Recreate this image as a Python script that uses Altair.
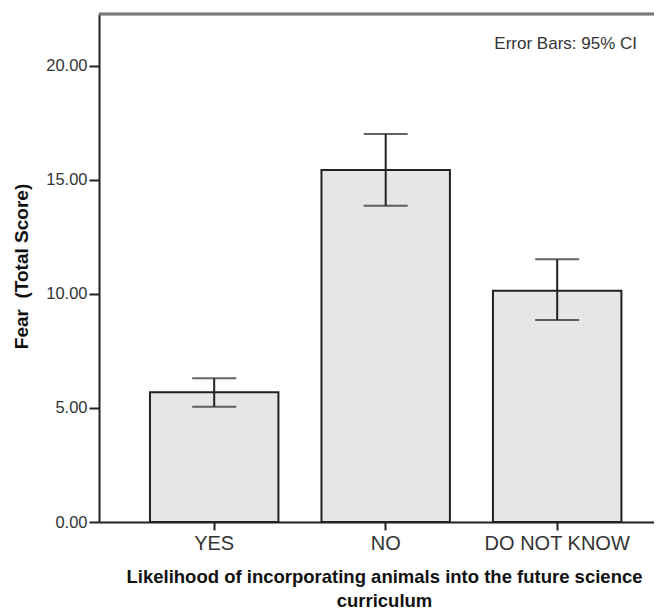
import altair as alt
import pandas as pd

categories = ["YES", "NO", "DO NOT KNOW"]
means = [5.69, 15.44, 10.14]
ci_low = [5.06, 13.87, 8.86]
ci_high = [6.30, 17.02, 11.52]
y_ticks = [0, 5, 10, 15, 20]

df = pd.DataFrame({"cat": categories, "mean": means, "lo": ci_low, "hi": ci_high})

W, H = 555, 508
FONT = "Liberation Sans"

xscale = alt.Scale(domain=categories, paddingInner=0.251, paddingOuter=0.2436, align=0.61)
yscale = alt.Scale(domain=[0, 22.28], nice=False, zero=True)

x_enc = alt.X(
    "cat:N", scale=xscale, sort=categories,
    axis=alt.Axis(
        title=["Likelihood of incorporating animals into the future science", "curriculum"],
        titleFont=FONT, titleFontSize=18.5, titleFontWeight="bold", titleColor="#111",
        titleLineHeight=24, titleX=285, titleY=54, titleBaseline="middle",
        labelFont=FONT, labelFontSize=20, labelColor="#333", labelAngle=0,
        labelPadding=3, tickSize=8, tickWidth=2, tickColor="#222",
        domainColor="#222", domainWidth=2,
    ),
)
y_enc = alt.Y(
    "mean:Q", scale=yscale,
    axis=alt.Axis(
        title="Fear\u00a0 (Total Score)", values=y_ticks, format=".2f",
        titleFont=FONT, titleFontSize=19, titleFontWeight="bold", titleColor="#111",
        titleX=-68, titleY=252,
        labelFont=FONT, labelFontSize=16.5, labelColor="#333",
        labelPadding=2, tickSize=10, tickWidth=2, tickColor="#222",
        domainColor="#222", domainWidth=2, grid=False,
    ),
)

bars = alt.Chart(df).mark_bar(fill="#e6e6e6", stroke="#222", strokeWidth=2).encode(x=x_enc, y=y_enc)

err = alt.Chart(df).mark_rule(color="#222", strokeWidth=2).encode(
    x=alt.X("cat:N", scale=xscale, sort=categories),
    y=alt.Y("lo:Q", scale=yscale),
    y2="hi:Q",
)
cap_lo = alt.Chart(df).mark_tick(color="#222", thickness=2, size=44, orient="horizontal").encode(
    x=alt.X("cat:N", scale=xscale, sort=categories),
    y=alt.Y("lo:Q", scale=yscale),
)
cap_hi = alt.Chart(df).mark_tick(color="#222", thickness=2, size=44, orient="horizontal").encode(
    x=alt.X("cat:N", scale=xscale, sort=categories),
    y=alt.Y("hi:Q", scale=yscale),
)

top_border = alt.Chart(df).mark_rule(color="#777", strokeWidth=2.5).encode(
    x=alt.value(0), x2=alt.value(W), y=alt.value(0)
)

note = alt.Chart(pd.DataFrame({"t": ["Error Bars: 95% CI"]})).mark_text(
    font=FONT, fontSize=17, color="#333", align="right", baseline="middle"
).encode(x=alt.value(538), y=alt.value(30), text="t:N")

chart = alt.layer(bars, err, cap_lo, cap_hi, top_border, note).properties(
    width=W, height=H,
    autosize=alt.AutoSizeParams(type="none"),
    padding={"left": 91, "top": 6, "right": 0, "bottom": 87},
).configure_view(stroke=None).configure(background="white")

chart.save("out.html", embed_options={"renderer": "svg", "actions": False})
